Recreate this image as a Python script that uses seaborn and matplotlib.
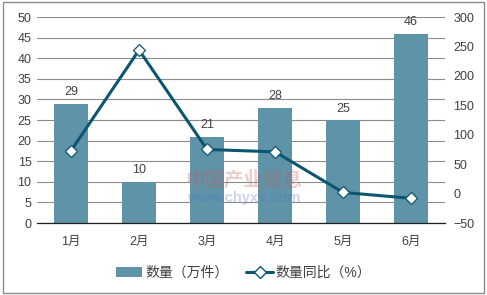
import matplotlib
matplotlib.use("Agg")
import matplotlib.pyplot as plt
import seaborn as sns
import numpy as np
import pandas as pd
from matplotlib.lines import Line2D
from matplotlib.patches import Patch, Rectangle

months = ["1月", "2月", "3月", "4月", "5月", "6月"]
quantity = [29, 10, 21, 28, 25, 46]
yoy = [73, 244, 75, 71, 2, -8]
left_ticks = [0, 5, 10, 15, 20, 25, 30, 35, 40, 45, 50]
right_ticks = [-50, 0, 50, 100, 150, 200, 250, 300]
bar_label = "数量（万件）"
line_label = "数量同比（%）"

sns.set_theme(style="white")
plt.rcParams['font.family'] = ['Liberation Sans', 'Noto Sans CJK SC', 'DejaVu Sans']

bar_color = "#5E93A8"
line_color = "#0B5670"
text_color = "#404040"

fig = plt.figure(figsize=(4.87, 2.95), dpi=100)
ax = fig.add_axes([0.076, 0.244, 0.838, 0.698])

df = pd.DataFrame({"month": months, "quantity": quantity})
sns.barplot(data=df, x="month", y="quantity", color=bar_color, width=0.5,
            saturation=1, ax=ax, zorder=2, linewidth=0, edgecolor="none")
for c in ax.containers:
    ax.bar_label(c, labels=[str(v) for v in quantity], padding=4,
                 fontsize=9, color=text_color)

ax.set_ylim(0, 50)
ax.set_yticks(left_ticks)
ax.set_xlim(-0.5, 5.5)
ax.set_xlabel("")
ax.set_ylabel("")
ax.yaxis.grid(True, color="#8C8C8C", linewidth=0.8, zorder=0)
ax.set_axisbelow(True)
for s in ["left", "right", "top"]:
    ax.spines[s].set_visible(False)
ax.spines["bottom"].set_color("#202020")
ax.spines["bottom"].set_linewidth(0.9)
ax.tick_params(axis="y", length=0, labelsize=9, labelcolor=text_color, pad=4)
ax.tick_params(axis="x", length=0, labelsize=9, labelcolor=text_color, pad=9)

ax2 = ax.twinx()
ax2.plot(np.arange(len(months)), yoy, color=line_color, linewidth=2.2,
         marker="D", markersize=6, markerfacecolor="white",
         markeredgecolor=line_color, markeredgewidth=0.9, zorder=5)
ax2.set_ylim(-50, 300)
ax2.set_yticks(right_ticks)
for s in ["left", "right", "top", "bottom"]:
    ax2.spines[s].set_visible(False)
ax2.tick_params(axis="y", length=0, labelsize=9, labelcolor=text_color, pad=6)
ax2.grid(False)

# watermark
fig.text(0.50, 0.39, "中国产业信息", fontsize=14, color="#C85A5A", alpha=0.3,
         ha="center", va="center", fontweight="bold", family=['Noto Sans CJK SC'])
fig.text(0.50, 0.33, "www.chyxx.com", fontsize=10.5, color="#5A6FC0", alpha=0.3,
         ha="center", va="center", fontweight="bold")

handles = [Patch(facecolor=bar_color, edgecolor="none"),
           Line2D([0], [0], color=line_color, linewidth=2.2, marker="D",
                  markersize=6, markerfacecolor="white", markeredgecolor=line_color)]
fig.legend(handles, [bar_label, line_label], loc="center", bbox_to_anchor=(0.5, 0.075),
           ncol=2, frameon=False, fontsize=10, handlelength=1.9, columnspacing=1.3,
           handletextpad=0.2, labelcolor=text_color)

fig.patches.append(Rectangle((0.006, 0.008), 0.988, 0.984, transform=fig.transFigure,
                             fill=False, edgecolor="#8C8C8C", linewidth=1.0))

fig.savefig("out.png", dpi=100)
